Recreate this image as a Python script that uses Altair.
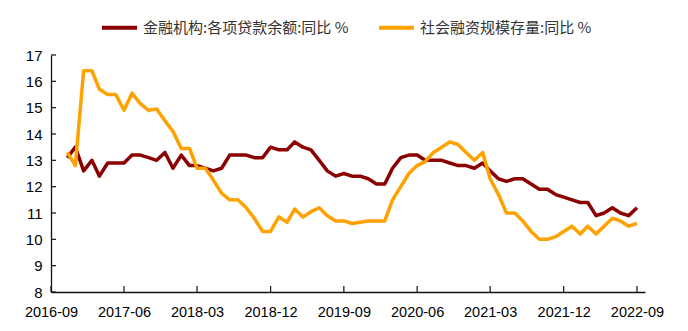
import altair as alt
import pandas as pd

# ---- data ----
months = pd.date_range("2016-11-01", "2022-09-01", freq="MS").strftime("%Y-%m-%d").tolist()

loans = [13.1, 13.5,
         12.6, 13.0, 12.4, 12.9, 12.9, 12.9, 13.2, 13.2, 13.1, 13.0, 13.3, 12.7,
         13.2, 12.8, 12.8, 12.7, 12.6, 12.7, 13.2, 13.2, 13.2, 13.1, 13.1, 13.5,
         13.4, 13.4, 13.7, 13.5, 13.4, 13.0, 12.6, 12.4, 12.5, 12.4, 12.4, 12.3,
         12.1, 12.1, 12.7, 13.1, 13.2, 13.2, 13.0, 13.0, 13.0, 12.9, 12.8, 12.8,
         12.7, 12.9, 12.6, 12.3, 12.2, 12.3, 12.3, 12.1, 11.9, 11.9, 11.7, 11.6,
         11.5, 11.4, 11.4, 10.9, 11.0, 11.2, 11.0, 10.9, 11.2]

tsf = [13.3, 12.8,
       16.4, 16.4, 15.7, 15.5, 15.5, 14.9, 15.55, 15.15, 14.9, 14.95, 14.5, 14.1,
       13.45, 13.45, 12.7, 12.7, 12.25, 11.75, 11.5, 11.5, 11.2, 10.8, 10.3, 10.3,
       10.85, 10.65, 11.15, 10.85, 11.05, 11.2, 10.9, 10.7, 10.7, 10.6, 10.65, 10.7,
       10.7, 10.7, 11.5, 12.0, 12.5, 12.8, 12.95, 13.3, 13.5, 13.7, 13.6, 13.3,
       13.0, 13.3, 12.3, 11.7, 11.0, 11.0, 10.7, 10.3, 10.0, 10.0, 10.1, 10.3,
       10.5, 10.2, 10.5, 10.2, 10.5, 10.8, 10.7, 10.5, 10.6]

series_names = ["金融机构:各项贷款余额:同比 %", "社会融资规模存量:同比 %"]
series_colors = ["#8B0000", "#FFA200"]

x_tick_dates = ["2016-09-01", "2017-06-01", "2018-03-01", "2018-12-01", "2019-09-01",
                "2020-06-01", "2021-03-01", "2021-12-01", "2022-09-01"]
x_domain = ["2016-09-01", "2022-10-01"]
y_ticks = [8, 9, 10, 11, 12, 13, 14, 15, 16, 17]

# ---- tables ----
df = pd.DataFrame({
    "date": months + months,
    "value": loans + tsf,
    "series": [series_names[0]] * len(loans) + [series_names[1]] * len(tsf),
})
xt = pd.DataFrame({"date": x_tick_dates})
yt = pd.DataFrame({"value": y_ticks})


def dt(s):
    t = pd.Timestamp(s)
    return alt.DateTime(year=t.year, month=t.month, date=t.day, utc=True)


W, H = 594, 237
AX = "#111111"

x_scale = alt.Scale(type="utc", domain=[dt(s) for s in x_domain])
x_axis = alt.Axis(
    values=[dt(s) for s in x_tick_dates],
    labelExpr="utcFormat(datum.value, '%Y-%m')",
    title=None, grid=False, ticks=False, tickSize=0,
    labelPadding=13, labelFont="Liberation Sans", labelFontSize=14.5,
    labelColor="#000000", domainColor=AX, domainWidth=1.3,
    labelOverlap=False, labelFlush=False,
)
y_scale = alt.Scale(domain=[8, 17], nice=False, zero=False)
y_axis = alt.Axis(
    values=y_ticks, title=None, grid=False, ticks=False, tickSize=0,
    labelPadding=9, labelFont="Liberation Sans", labelFontSize=15,
    labelColor="#000000", domainColor=AX, domainWidth=1.3,
    labelOverlap=False, labelFlush=False,
)

x_enc = alt.X("date:T", scale=x_scale, axis=x_axis)
y_enc = alt.Y("value:Q", scale=y_scale, axis=y_axis)

color_enc = alt.Color(
    "series:N",
    scale=alt.Scale(domain=series_names, range=series_colors),
    legend=alt.Legend(
        title=None, orient="none", legendX=49, legendY=-47,
        direction="horizontal", symbolType="stroke", symbolStrokeWidth=4,
        symbolSize=1225, labelFont="Noto Sans CJK SC", labelFontSize=15,
        labelColor="#333333", labelOffset=4, columnPadding=22, labelLimit=400,
    ),
)

line_red = alt.Chart(df).transform_filter(
    alt.datum.series == series_names[0]
).mark_line(strokeWidth=3.5, strokeJoin="round").encode(
    x=x_enc, y=y_enc, color=color_enc
)
line_org = alt.Chart(df).transform_filter(
    alt.datum.series == series_names[1]
).mark_line(strokeWidth=3.5, strokeJoin="round").encode(
    x=x_enc, y=y_enc, color=color_enc
)

xticks = alt.Chart(xt).mark_rule(color=AX, strokeWidth=1.2).encode(
    x=x_enc, y=alt.value(H), y2=alt.value(H - 6)
)
yticks = alt.Chart(yt).mark_rule(color=AX, strokeWidth=1.2).encode(
    y=y_enc, x=alt.value(0), x2=alt.value(5)
)

chart = alt.layer(xticks, yticks, line_red, line_org).properties(
    width=W, height=H,
    autosize=alt.AutoSizeParams(type="none"),
    padding={"left": 51, "top": 55, "right": 43, "bottom": 39},
    background="white",
).configure_view(stroke=None)

chart.save("out.html", embed_options={"renderer": "svg", "actions": False})
